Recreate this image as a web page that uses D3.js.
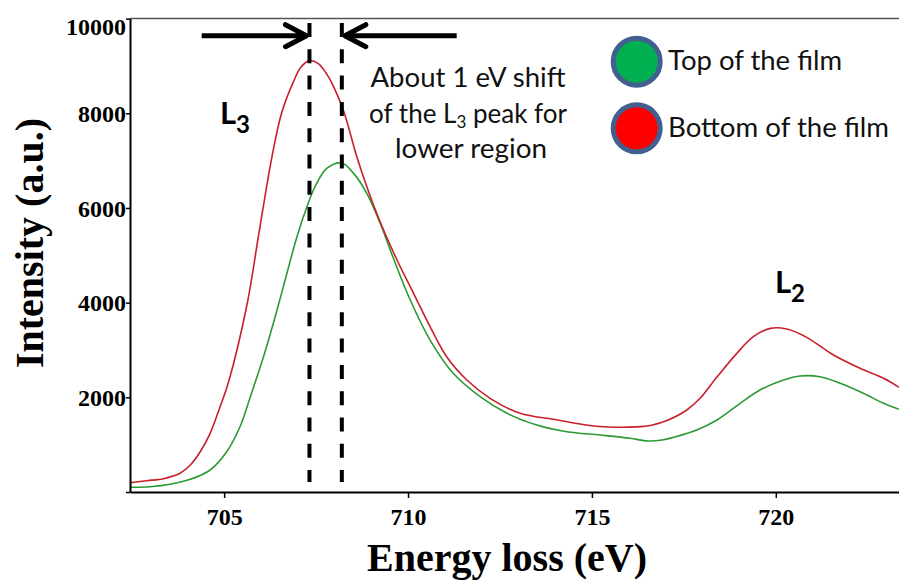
<!DOCTYPE html>
<html>
<head>
<meta charset="utf-8">
<script src="https://cdn.jsdelivr.net/npm/d3@7"></script>
<style>
  html, body { margin: 0; padding: 0; background: #fff; }
  svg { display: block; }
</style>
</head>
<body>
<svg id="chart" width="899" height="580"></svg>
<script>
// Fe L-edge EELS spectra: bottom vs top of the film
const bottomEnergy = [702.44, 702.90, 703.35, 703.80, 704.08, 704.35, 704.62, 704.89, 705.12, 705.63, 705.93, 706.30, 706.57, 706.88, 707.09, 707.32, 707.56, 707.79, 707.97, 708.24, 708.61, 708.88, 709.24, 709.70, 710.15, 710.60, 711.05, 711.60, 712.23, 713.05, 713.95, 714.68, 715.31, 716.22, 716.62, 717.04, 717.58, 717.94, 718.40, 718.94, 719.39, 719.85, 720.30, 720.84, 721.57, 722.29, 722.93, 723.35];
const bottomIntensity = [196, 239, 281, 395, 570, 851, 1240, 1802, 2323, 3992, 5392, 7081, 8026, 8659, 8976, 9113, 9050, 8828, 8575, 8068, 7075, 6448, 5709, 4900, 4197, 3491, 2857, 2365, 1979, 1662, 1535, 1436, 1379, 1375, 1410, 1510, 1732, 1979, 2429, 2929, 3280, 3457, 3443, 3267, 2893, 2613, 2401, 2211];

const topEnergy = [702.44, 702.99, 703.53, 704.08, 704.62, 705.07, 705.44, 705.71, 706.11, 706.49, 706.98, 707.25, 707.47, 707.79, 708.20, 708.52, 708.88, 709.24, 709.60, 710.06, 710.60, 711.23, 711.96, 712.69, 713.50, 714.32, 715.22, 716.04, 716.53, 716.91, 717.22, 717.85, 718.40, 719.03, 719.57, 720.21, 720.66, 721.20, 721.75, 722.38, 722.93, 723.35];
const topIntensity = [99, 112, 163, 268, 465, 851, 1394, 2006, 2957, 3992, 5392, 6026, 6448, 6837, 6948, 6731, 6309, 5681, 4942, 4055, 3210, 2507, 2013, 1662, 1415, 1274, 1204, 1134, 1077, 1098, 1155, 1309, 1521, 1873, 2154, 2365, 2450, 2435, 2296, 2085, 1873, 1747];

// L3 peak positions (bottom, top)
const peakEnergy = [707.32, 708.20];

const xTicks = [705, 710, 715, 720];
const yTicks = [0, 2000, 4000, 6000, 8000, 10000];

const seriesNames = ["Top of the film", "Bottom of the film"];
const seriesFill = ["#00b050", "#ff0000"];

const svg = d3.select("#chart");
const W = 899, H = 580;
const plot = { left: 130, right: 899, top: 18.6, bottom: 492 };

svg.append("rect").attr("width", W).attr("height", H).attr("fill", "#fff");

const x = d3.scaleLinear().domain([702.44, 723.35]).range([plot.left, plot.right]);
const y = d3.scaleLinear().domain([0, 10000]).range([plot.bottom, plot.top]);

svg.append("defs").append("clipPath").attr("id", "plotClip")
  .append("rect").attr("x", plot.left).attr("y", 0)
  .attr("width", plot.right - plot.left).attr("height", plot.bottom);

// top frame line
svg.append("line")
  .attr("x1", plot.left).attr("x2", plot.right)
  .attr("y1", y(10000)).attr("y2", y(10000))
  .attr("stroke", "#555").attr("stroke-width", 1.5);

// spectra
const line = d3.line().x(d => x(d[0])).y(d => y(d[1])).curve(d3.curveCatmullRom.alpha(0.5));
const bottomData = bottomEnergy.map((e, i) => [e, bottomIntensity[i]]);
const topData = topEnergy.map((e, i) => [e, topIntensity[i]]);

const curves = svg.append("g").attr("clip-path", "url(#plotClip)");
curves.append("path").datum(topData).attr("d", line)
  .attr("fill", "none").attr("stroke", "#2b9a33").attr("stroke-width", 1.6);
curves.append("path").datum(bottomData).attr("d", line)
  .attr("fill", "none").attr("stroke", "#c8202a").attr("stroke-width", 1.6);

// axes
const serif = "'Liberation Serif', 'Times New Roman', serif";
const yAxis = svg.append("g").attr("transform", `translate(${plot.left},0)`)
  .call(d3.axisLeft(y).tickValues(yTicks).tickSize(4).tickSizeOuter(0)
    .tickFormat(d => d === 0 ? "" : d3.format("d")(d)));
yAxis.select(".domain").attr("stroke", "#000").attr("stroke-width", 2);
yAxis.selectAll(".tick line").attr("stroke", "#000").attr("stroke-width", 1.5);
yAxis.selectAll(".tick text")
  .attr("x", -4).attr("dy", (d) => d === 10000 ? "0.68em" : "0.34em")
  .attr("font-family", serif).attr("font-weight", "bold")
  .attr("font-size", 24).attr("fill", "#000");

const xAxis = svg.append("g").attr("transform", `translate(0,${plot.bottom})`)
  .call(d3.axisBottom(x).tickValues(xTicks).tickSize(6).tickSizeOuter(0));
xAxis.select(".domain").attr("stroke", "#000").attr("stroke-width", 2);
xAxis.selectAll(".tick line").attr("stroke", "#000").attr("stroke-width", 1.5);
xAxis.selectAll(".tick text")
  .attr("y", 16).attr("dy", "0.71em")
  .attr("font-family", serif).attr("font-weight", "bold")
  .attr("font-size", 24).attr("fill", "#000");

svg.append("text")
  .attr("x", 507).attr("y", 571).attr("text-anchor", "middle")
  .attr("font-family", serif).attr("font-weight", "bold").attr("font-size", 40)
  .attr("fill", "#000").text("Energy loss (eV)");

svg.append("text")
  .attr("transform", "translate(43,243) rotate(-90)").attr("text-anchor", "middle")
  .attr("font-family", serif).attr("font-weight", "bold").attr("font-size", 40)
  .attr("fill", "#000").text("Intensity (a.u.)");

// dashed markers at the two L3 peak positions
svg.selectAll(".peakline").data(peakEnergy).enter().append("line")
  .attr("class", "peakline")
  .attr("x1", d => x(d)).attr("x2", d => x(d))
  .attr("y1", 23).attr("y2", 482)
  .attr("stroke", "#000").attr("stroke-width", 4)
  .attr("stroke-dasharray", "14,12.3");

// arrows pointing at the peak markers
const arrowY = 35.7;
function arrow(fromX, tipX) {
  const dir = Math.sign(tipX - fromX);
  const g = svg.append("g").attr("fill", "none").attr("stroke", "#000")
    .attr("stroke-width", 5).attr("stroke-linecap", "round").attr("stroke-linejoin", "round");
  g.append("line").attr("x1", fromX).attr("x2", tipX - dir * 2)
    .attr("y1", arrowY).attr("y2", arrowY).attr("stroke-linecap", "butt");
  g.append("polyline").attr("points",
    `${tipX - dir * 22},${arrowY - 11} ${tipX - dir * 1},${arrowY} ${tipX - dir * 22},${arrowY + 11}`);
}
arrow(201.7, x(peakEnergy[0]) - 2);
arrow(456.7, x(peakEnergy[1]) + 2);

// annotation text
const sans = "Lato, 'Open Sans', sans-serif";
svg.append("text").attr("x", 468).attr("y", 87).attr("text-anchor", "middle")
  .attr("font-family", sans).attr("font-size", 26).attr("fill", "#111")
  .attr("textLength", 195).attr("lengthAdjust", "spacingAndGlyphs")
  .text("About 1 eV shift");
const t2 = svg.append("text").attr("x", 468).attr("y", 123).attr("text-anchor", "middle")
  .attr("font-family", sans).attr("font-size", 26).attr("fill", "#111");
t2.append("tspan").text("of the L");
t2.append("tspan").attr("font-size", 17).attr("dy", 5).text("3");
t2.append("tspan").attr("dy", -5).text(" peak for");
svg.append("text").attr("x", 471).attr("y", 158).attr("text-anchor", "middle")
  .attr("font-family", sans).attr("font-size", 26).attr("fill", "#111")
  .attr("textLength", 152).attr("lengthAdjust", "spacingAndGlyphs")
  .text("lower region");

// edge labels
function edgeLabel(px, py, sub) {
  const t = svg.append("text").attr("x", px).attr("y", py)
    .attr("font-family", sans).attr("font-weight", "bold").attr("font-size", 31).attr("fill", "#000");
  t.append("tspan").text("L");
  t.append("tspan").attr("font-size", 24).attr("dy", 9).text(sub);
}
edgeLabel(220, 124, "3");
edgeLabel(775, 293, "2");

// legend
const legend = svg.append("g");
const legendY = [61.7, 128.3];
const legendW = [174, 221];
seriesNames.forEach((name, i) => {
  legend.append("circle").attr("cx", 636.7).attr("cy", legendY[i]).attr("r", 23.5)
    .attr("fill", seriesFill[i]).attr("stroke", "#41608f").attr("stroke-width", 5);
  legend.append("text").attr("x", 668).attr("y", legendY[i] + 8.5)
    .attr("font-family", sans).attr("font-size", 26).attr("fill", "#111")
    .attr("textLength", legendW[i]).attr("lengthAdjust", "spacingAndGlyphs")
    .text(name);
});
</script>
</body>
</html>
